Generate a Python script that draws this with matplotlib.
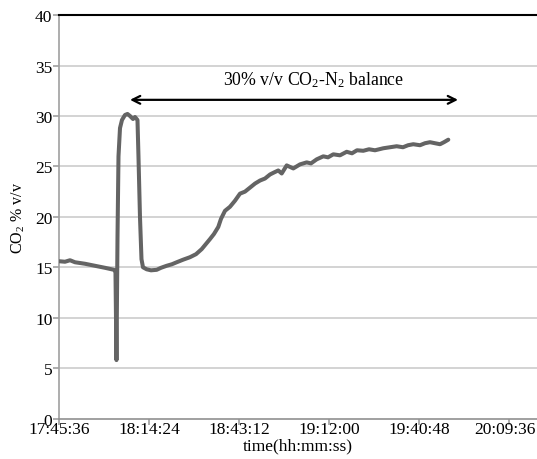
import matplotlib
matplotlib.use("Agg")
import matplotlib.pyplot as plt
import matplotlib.transforms as mtransforms

plt.rcParams['font.family'] = ['Liberation Serif', 'DejaVu Serif']
plt.rcParams['mathtext.fontset'] = 'custom'
plt.rcParams['mathtext.rm'] = 'Liberation Serif'
plt.rcParams['mathtext.it'] = 'Liberation Serif:italic'

times = ["17:45:36", "17:47:26", "17:49:02", "17:50:38", "17:53:50", "17:57:02",
         "18:00:14", "18:03:07", "18:03:36", "18:03:55", "18:04:15", "18:04:34",
         "18:05:03", "18:05:41", "18:06:39", "18:07:27", "18:08:15", "18:09:13",
         "18:09:51", "18:10:39", "18:10:58", "18:11:27", "18:11:56", "18:12:25",
         "18:13:36", "18:14:59", "18:16:48", "18:18:11", "18:20:00", "18:21:40",
         "18:23:13", "18:25:14", "18:27:28", "18:29:24", "18:31:13", "18:33:53",
         "18:35:09", "18:36:32", "18:37:24", "18:38:41", "18:40:17", "18:41:53",
         "18:43:29", "18:45:05", "18:46:42", "18:48:18", "18:49:54", "18:51:30",
         "18:53:06", "18:54:23", "18:55:45", "18:56:51", "18:58:27", "19:00:34",
         "19:02:42", "19:04:51", "19:06:14", "19:08:03", "19:10:10", "19:11:41",
         "19:13:23", "19:15:31", "19:17:40", "19:19:22", "19:20:58", "19:22:59",
         "19:24:49", "19:26:44", "19:29:24", "19:31:32", "19:33:41", "19:35:42",
         "19:37:19", "19:39:00", "19:41:09", "19:42:45", "19:44:21", "19:45:57",
         "19:47:34", "19:48:50", "19:50:13"]
co2 = [15.6, 15.55, 15.7, 15.5, 15.35, 15.15,
       14.95, 14.75, 14.6, 5.8, 18.0, 26.0,
       28.8, 29.6, 30.1, 30.2, 30.0, 29.7,
       29.9, 29.6, 26.0, 20.0, 15.8, 15.0,
       14.8, 14.7, 14.75, 14.95, 15.15, 15.3,
       15.5, 15.75, 16.0, 16.3, 16.8, 17.8,
       18.3, 19.0, 19.8, 20.6, 21.0, 21.6,
       22.3, 22.5, 22.9, 23.3, 23.6, 23.8,
       24.2, 24.4, 24.6, 24.3, 25.1, 24.8,
       25.2, 25.4, 25.3, 25.7, 26.0, 25.9,
       26.2, 26.1, 26.45, 26.3, 26.6, 26.55,
       26.7, 26.6, 26.8, 26.9, 27.0, 26.9,
       27.1, 27.2, 27.1, 27.3, 27.4, 27.3,
       27.2, 27.4, 27.65]

xtick_labels = ["17:45:36", "18:14:24", "18:43:12", "19:12:00", "19:40:48", "20:09:36"]
yticks = [0, 5, 10, 15, 20, 25, 30, 35, 40]

arrow_start, arrow_end, arrow_level = "18:08:15", "19:53:20", 31.6
label_time, label_level = "19:07:12", 33.7


def to_sec(s):
    h, m, sec = (int(v) for v in s.split(":"))
    return h * 3600 + m * 60 + sec


x = [to_sec(t) for t in times]
xt = [to_sec(t) for t in xtick_labels]

fig = plt.figure(figsize=(5.37, 4.60), dpi=100)
ax = fig.add_axes([0.1104, 0.0878, 0.8896, 0.8772])

ax.plot(x, co2, color='#646464', lw=2.9, solid_joinstyle='round', solid_capstyle='round', zorder=3)

ax.set_xlim(xt[0], xt[0] + 9182)
ax.set_ylim(0, 40)
ax.set_xticks(xt)
ax.set_xticklabels(xtick_labels)
ax.set_yticks(yticks)
ax.set_yticklabels([str(v) for v in yticks])

for v in yticks[1:-1]:
    ax.axhline(v, color='#cccccc', lw=1.2, zorder=1)

ax.spines['right'].set_visible(False)
ax.spines['top'].set_color('black')
ax.spines['top'].set_linewidth(1.5)
ax.spines['left'].set_color('#a0a0a0')
ax.spines['left'].set_linewidth(1.2)
ax.spines['bottom'].set_color('#909090')
ax.spines['bottom'].set_linewidth(1.2)

ax.tick_params(axis='both', labelsize=12.5, colors='#a0a0a0', labelcolor='black',
               length=4, width=1.2, direction='out', pad=1)
ax.tick_params(axis='x', pad=-2)

# nudge the last x tick label so it fits inside the picture, as in the reference
last = ax.get_xticklabels()[-1]
last.set_transform(last.get_transform() + mtransforms.ScaledTranslation(-3.5 / 100, 0, fig.dpi_scale_trans))

ax.set_xlabel('time(hh:mm:ss)', fontsize=12.5, labelpad=0)
ax.set_ylabel(r'CO$_\mathrm{2}$ % v/v', fontsize=11.5, labelpad=6)

ax.annotate('', xy=(to_sec(arrow_start), arrow_level), xytext=(to_sec(arrow_end), arrow_level),
            arrowprops=dict(arrowstyle='<->', color='black', lw=1.6, shrinkA=0, shrinkB=0,
                            mutation_scale=14))
ax.text(to_sec(label_time), label_level, r'30% v/v CO$_\mathrm{2}$-N$_\mathrm{2}$ balance',
        ha='center', va='center', fontsize=12.8)

fig.savefig('out.png', dpi=100)
